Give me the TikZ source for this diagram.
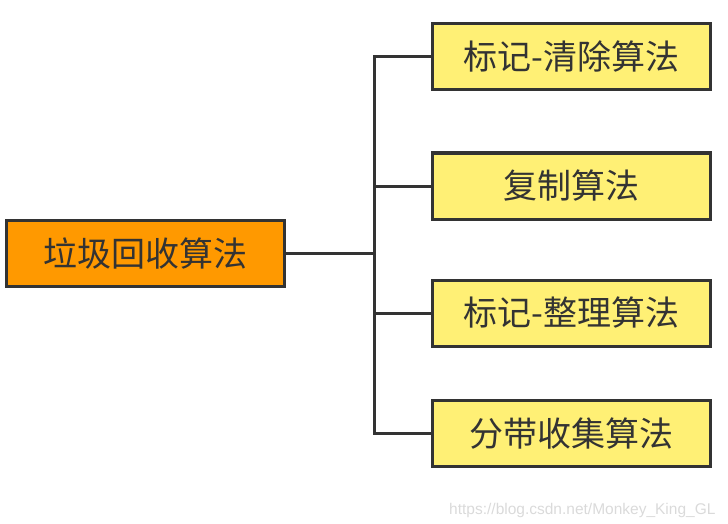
\documentclass[tikz,border=0pt]{standalone}
\usepackage{fontspec}
\setmainfont{Noto Sans CJK SC}
\setsansfont{Liberation Sans}
\usetikzlibrary{positioning}
\definecolor{rootfill}{HTML}{FF9900}
\definecolor{leaffill}{HTML}{FFF075}
\definecolor{boxline}{HTML}{333333}
\definecolor{markgray}{HTML}{DADADA}
\tikzset{
  gcbox/.style = {draw = boxline, line width = 3pt, text = boxline,
    minimum width = 278pt, minimum height = 66pt, inner sep = 0pt,
    font = \fontsize{34}{34}\selectfont},
  gcroot/.style = {gcbox, fill = rootfill},
  gcleaf/.style = {gcbox, fill = leaffill},
  gcline/.style = {draw = boxline, line width = 3pt, line join = miter}
}
\begin{document}
\begin{tikzpicture}[x = 1pt, y = -1pt]
\useasboundingbox (0,0) rectangle (728,524);
\node[gcroot] (root) at (145.5,253.5) {垃圾回收算法};
\coordinate (trunk) at (374,253.5);
\node[gcleaf] (mark) at (571.5,56.5) {标记-清除算法};
\node[gcleaf] (copy) at (571.5,186) {复制算法};
\node[gcleaf] (compact) at (571.5,313) {标记-整理算法};
\node[gcleaf] (gen) at (571.5,433.5) {分带收集算法};
\draw[gcline] (root) -- (trunk);
\foreach \n in {mark,copy,compact,gen} \draw[gcline] (trunk) |- (\n.west);
\node[text = markgray, font = \sffamily\fontsize{15.5}{15.5}\selectfont, anchor = east] (url) at (719,510) {https://blog.csdn.net/Monkey\_King\_GL};
\end{tikzpicture}
\end{document}
